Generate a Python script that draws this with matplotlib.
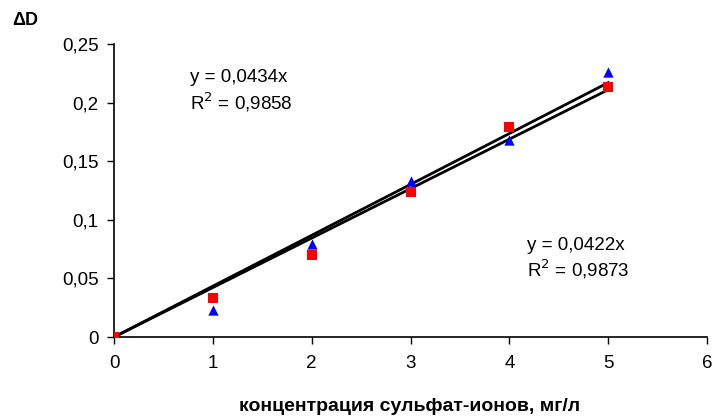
import numpy as np
import matplotlib.pyplot as plt

plt.rcParams['font.family'] = ['Liberation Sans', 'DejaVu Sans']

# concentrations, mg/l
conc = [0, 1, 2, 3, 4, 5]
d_red = [0, 0.033, 0.070, 0.124, 0.179, 0.213]
d_blue = [0, 0.023, 0.079, 0.133, 0.168, 0.226]
slope_red = 0.0422
slope_blue = 0.0434
r2_red = "0,9873"
r2_blue = "0,9858"

x_ticks = [0, 1, 2, 3, 4, 5, 6]
y_ticks = [0, 0.05, 0.1, 0.15, 0.2, 0.25]
y_labels = ["0", "0,05", "0,1", "0,15", "0,2", "0,25"]

fig = plt.figure(figsize=(7.14, 4.17), dpi=100)
ax = fig.add_axes([0.1597, 0.1918, 0.8305, 0.7027])

# trendlines through origin
xs = np.array([0, 5])
ax.plot(xs, slope_blue * xs, color='black', lw=2, zorder=2)
ax.plot(xs, slope_red * xs, color='black', lw=2, zorder=2)

ax.scatter(conc, d_blue, marker='^', color='#0000ff', s=55, zorder=3, linewidths=0)
ax.scatter(conc, d_red, marker='s', color='#ff0000', s=50, zorder=4, linewidths=0)

ax.set_xlim(0, 6)
ax.set_ylim(0, 0.25)
ax.set_xticks(x_ticks)
ax.set_xticklabels([str(t) for t in x_ticks])
ax.set_yticks(y_ticks)
ax.set_yticklabels(y_labels)
ax.tick_params(direction='out', length=5, width=1, labelsize=13.5, pad=6)
ax.tick_params(axis='x', pad=8)
for s in ['top', 'right']:
    ax.spines[s].set_visible(False)
for s in ['left', 'bottom']:
    ax.spines[s].set_linewidth(1.2)

ax.text(0.77, 0.2095, "y = 0,0434x\nR$^2$ = " + r2_blue, fontsize=13.5,
        va='center', linespacing=1.2)
ax.text(4.18, 0.0665, "y = 0,0422x\nR$^2$ = " + r2_red, fontsize=13.5,
        va='center', linespacing=1.2)

fig.text(0.017, 0.95, "ΔD", fontsize=13, fontweight='bold', va='center')
fig.text(0.574, 0.025, "концентрация сульфат-ионов, мг/л", fontsize=14,
         fontweight='bold', ha='center', va='center')

fig.savefig("out.png", dpi=100)
